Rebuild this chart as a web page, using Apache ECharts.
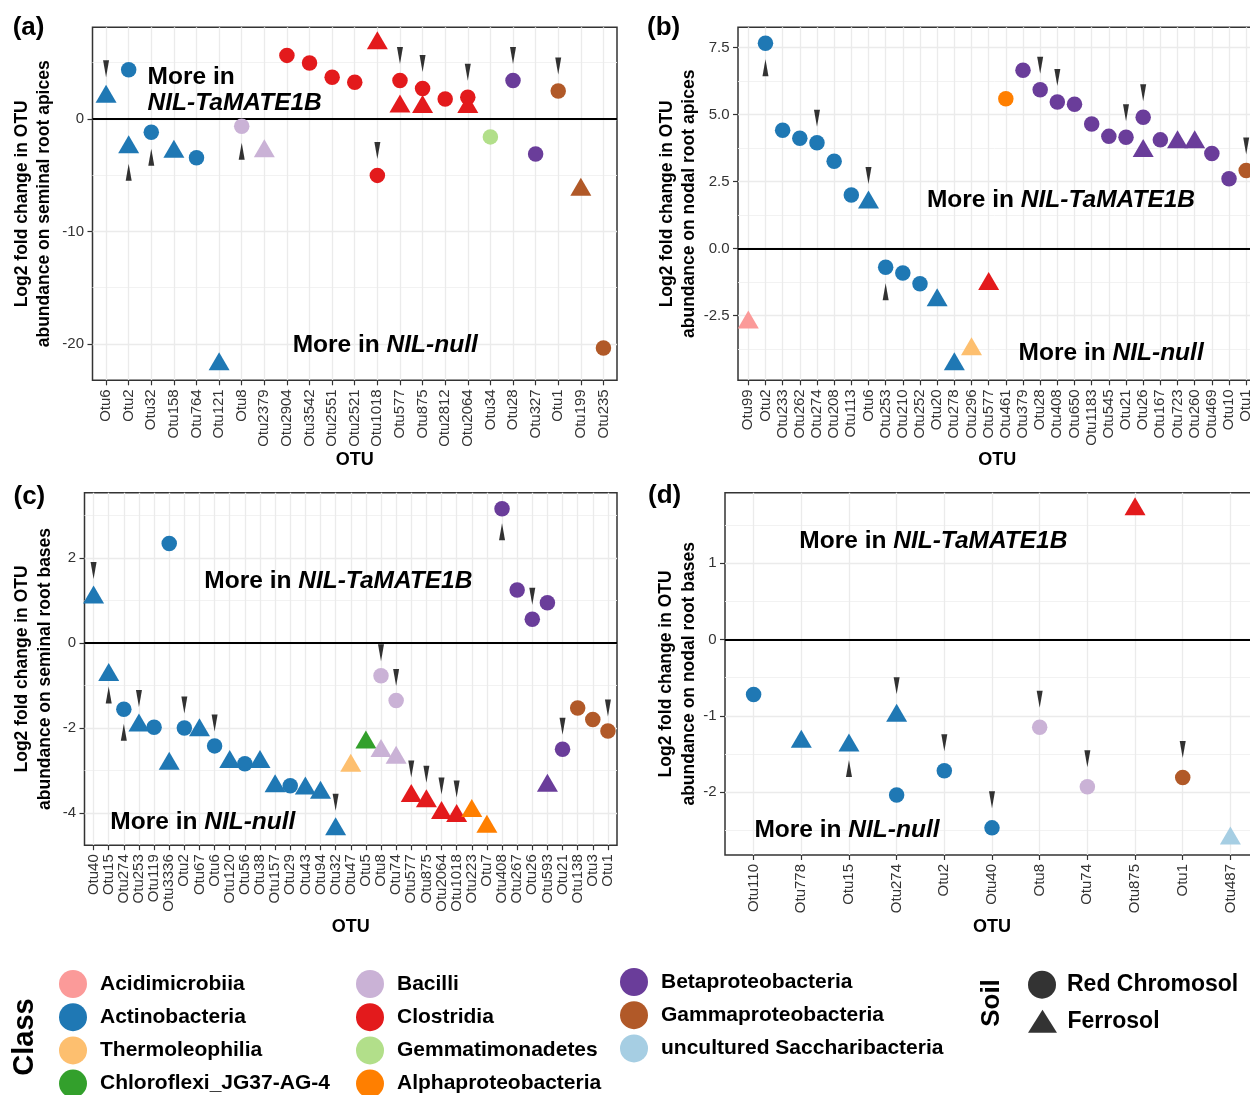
<!DOCTYPE html>
<html>
<head>
<meta charset="utf-8">
<script src="https://cdn.jsdelivr.net/npm/echarts@6/dist/echarts.min.js"></script>
<style>
  html, body { margin: 0; padding: 0; background: #ffffff; }
  #main { width: 1250px; height: 1095px; }
</style>
</head>
<body>
<div id="main"></div>
<script>
// ---- Classes (ColorBrewer "Paired" palette) ----
const classKeys   = ['Acid', 'Actino', 'Thermo', 'Chloro', 'Bac', 'Clos', 'Gem', 'Alpha', 'Beta', 'Gamma', 'Sacch'];
const classNames  = ['Acidimicrobiia', 'Actinobacteria', 'Thermoleophilia', 'Chloroflexi_JG37-AG-4',
                     'Bacilli', 'Clostridia', 'Gemmatimonadetes', 'Alphaproteobacteria',
                     'Betaproteobacteria', 'Gammaproteobacteria', 'uncultured Saccharibacteria'];
const classColors = ['#FB9A99', '#1F78B4', '#FDBF6F', '#33A02C', '#CAB2D6', '#E31A1C',
                     '#B2DF8A', '#FF7F00', '#6A3D9A', '#B15928', '#A6CEE3'];
const soilNames   = ['Red Chromosol', 'Ferrosol'];   // R = circle, F = triangle

// ---- (a) seminal root apices ----
const aOtus  = ['Otu6','Otu2','Otu32','Otu158','Otu764','Otu121','Otu8','Otu2379','Otu2904','Otu3542','Otu2551',
                'Otu2521','Otu1018','Otu577','Otu875','Otu2812','Otu2064','Otu34','Otu28','Otu327','Otu1','Otu199','Otu235'];
const aPtOtu = ['Otu6','Otu2','Otu2','Otu32','Otu158','Otu764','Otu121','Otu8','Otu2379','Otu2904','Otu3542','Otu2551','Otu2521','Otu1018',
                'Otu1018','Otu577','Otu577','Otu875','Otu875','Otu2812','Otu2064','Otu2064','Otu34','Otu28','Otu327','Otu1','Otu199','Otu235'];
const aClass = ['Actino','Actino','Actino','Actino','Actino','Actino','Actino','Bac','Bac','Clos','Clos','Clos','Clos','Clos',
                'Clos','Clos','Clos','Clos','Clos','Clos','Clos','Clos','Gem','Beta','Beta','Gamma','Gamma','Gamma'];
const aSoil  = ['F','R','F','R','F','R','F','R','F','R','R','R','R','F',
                'R','R','F','R','F','R','R','F','R','R','R','R','F','R'];
const aLfc   = [1.96, 4.37, -2.51, -1.18, -2.93, -3.46, -21.8, -0.65, -2.87, 5.64, 4.96, 3.69, 3.25, 6.71,
                -5.02, 3.40, 1.09, 2.69, 1.06, 1.77, 1.92, 1.06, -1.60, 3.40, -3.13, 2.48, -6.3, -20.35];
const aMark  = ['down','','up','up','','','','up','','','','','','',
                'down','down','','down','','','down','','','down','','down','',''];
const aTicks = [-20, -10, 0];
const aMinor = [-15, -5, 5];

// ---- (b) nodal root apices ----
const bOtus  = ['Otu99','Otu2','Otu233','Otu262','Otu274','Otu208','Otu113','Otu6','Otu253','Otu210','Otu252','Otu20',
                'Otu278','Otu296','Otu577','Otu461','Otu379','Otu28','Otu408','Otu650','Otu1183','Otu545','Otu21','Otu26',
                'Otu167','Otu723','Otu260','Otu469','Otu10','Otu1'];
const bPtOtu = ['Otu99','Otu2','Otu233','Otu262','Otu274','Otu208','Otu113','Otu6','Otu253','Otu210','Otu252','Otu20','Otu278','Otu296','Otu577',
                'Otu461','Otu379','Otu28','Otu408','Otu650','Otu1183','Otu545','Otu21','Otu26','Otu26','Otu167','Otu723','Otu260','Otu469','Otu10','Otu1'];
const bClass = ['Acid','Actino','Actino','Actino','Actino','Actino','Actino','Actino','Actino','Actino','Actino','Actino','Actino','Thermo','Clos',
                'Alpha','Beta','Beta','Beta','Beta','Beta','Beta','Beta','Beta','Beta','Beta','Beta','Beta','Beta','Beta','Gamma'];
const bSoil  = ['F','R','R','R','R','R','R','F','R','R','R','F','F','F','F',
                'R','R','R','R','R','R','R','R','R','F','R','F','F','R','R','R'];
const bLfc   = [-2.76, 7.65, 4.41, 4.11, 3.94, 3.25, 1.99, 1.71, -0.70, -0.92, -1.32, -1.93, -4.32, -3.76, -1.33,
                5.58, 6.65, 5.92, 5.46, 5.38, 4.64, 4.18, 4.15, 4.89, 3.63, 4.05, 3.96, 3.96, 3.54, 2.60, 2.91];
const bMark  = ['','up','','','down','','','down','up','','','','','','',
                '','','down','down','','','','down','down','','','','','','','down'];
const bTicks = [-2.5, 0, 2.5, 5, 7.5];
const bMinor = [-3.75, -1.25, 1.25, 3.75, 6.25];

// ---- (c) seminal root bases ----
const cOtus  = ['Otu40','Otu15','Otu274','Otu253','Otu119','Otu3336','Otu2','Otu67','Otu6','Otu120','Otu56','Otu38',
                'Otu157','Otu29','Otu43','Otu94','Otu32','Otu47','Otu5','Otu8','Otu74','Otu577','Otu875','Otu2064',
                'Otu1018','Otu223','Otu7','Otu408','Otu267','Otu26','Otu593','Otu21','Otu138','Otu3','Otu1'];
const cPtOtu = ['Otu40','Otu15','Otu274','Otu253','Otu119','Otu3336','Otu3336','Otu2','Otu67','Otu6','Otu120','Otu56','Otu38',
                'Otu157','Otu29','Otu43','Otu94','Otu32','Otu47','Otu5','Otu8','Otu8','Otu74','Otu74','Otu577','Otu875',
                'Otu2064','Otu1018','Otu223','Otu7','Otu408','Otu267','Otu26','Otu593','Otu593','Otu21','Otu138','Otu3','Otu1'];
const cClass = ['Actino','Actino','Actino','Actino','Actino','Actino','Actino','Actino','Actino','Actino','Actino','Actino','Actino',
                'Actino','Actino','Actino','Actino','Actino','Thermo','Chloro','Bac','Bac','Bac','Bac','Clos','Clos',
                'Clos','Clos','Alpha','Alpha','Beta','Beta','Beta','Beta','Beta','Beta','Gamma','Gamma','Gamma'];
const cSoil  = ['F','F','R','F','R','R','F','R','F','R','F','R','F',
                'F','R','F','F','F','F','F','R','F','R','F','F','F',
                'F','F','F','F','R','R','R','R','F','R','R','R','R'];
const cLfc   = [1.07, -0.75, -1.56, -1.94, -1.98, 2.34, -2.84, -2.00, -2.05, -2.42, -2.80, -2.84, -2.80,
                -3.37, -3.36, -3.42, -3.52, -4.38, -2.89, -2.34, -0.77, -2.54, -1.35, -2.70, -3.60, -3.72,
                -4.00, -4.07, -3.95, -4.32, 3.16, 1.25, 0.56, 0.95, -3.36, -2.50, -1.53, -1.80, -2.07];
const cMark  = ['down','up','up','down','','','','down','','down','','','',
                '','','','','down','','','down','','down','','down','down',
                'down','down','','','up','','down','','','down','','','down'];
const cTicks = [-4, -2, 0, 2];
const cMinor = [-3, -1, 1, 3];

// ---- (d) nodal root bases ----
const dOtus  = ['Otu110','Otu778','Otu15','Otu274','Otu2','Otu40','Otu8','Otu74','Otu875','Otu1','Otu487'];
const dPtOtu = ['Otu110','Otu778','Otu15','Otu274','Otu274','Otu2','Otu40','Otu8','Otu74','Otu875','Otu1','Otu487'];
const dClass = ['Actino','Actino','Actino','Actino','Actino','Actino','Actino','Bac','Bac','Clos','Gamma','Sacch'];
const dSoil  = ['R','F','F','F','R','R','R','R','R','F','R','F'];
const dLfc   = [-0.72, -1.34, -1.39, -1.00, -2.04, -1.72, -2.47, -1.15, -1.93, 1.71, -1.81, -2.61];
const dMark  = ['','','up','down','','down','down','down','down','','down',''];
const dTicks = [-2, -1, 0, 1];
const dMinor = [-2.5, -1.5, -0.5, 0.5, 1.5];

// ---- drawing ----
const FONT = '"Liberation Sans", Arial, Helvetica, sans-serif';
const CIRCLE = 15.5, TRI_W = 21, TRI_H = 18;
const ARROW_DOWN = 'path://M0,0 L6,0 L3,17 Z';
const ARROW_UP = 'path://M3,0 L6,17 L0,17 Z';

const panels = [
  { cats: aOtus, otu: aPtOtu, cls: aClass, soil: aSoil, lfc: aLfc, mark: aMark, ticks: aTicks, minor: aMinor, digits: 0,
    grid: { left: 92.5, top: 27.3, width: 524.5, height: 353 },
    yName: 'Log2 fold change in OTU\nabundance on seminal root apices', yGap: 36.6, xGap: 71,
    gap: { circle: 25, triAbove: 28, triBelow: 25 } },
  { cats: bOtus, otu: bPtOtu, cls: bClass, soil: bSoil, lfc: bLfc, mark: bMark, ticks: bTicks, minor: bMinor, digits: 1,
    grid: { left: 738, top: 27.3, width: 518.5, height: 353 },
    yName: 'Log2 fold change in OTU\nabundance on nodal root apices', yGap: 37.5, xGap: 71,
    gap: { circle: 24.5, triAbove: 27, triBelow: 24 } },
  { cats: cOtus, otu: cPtOtu, cls: cClass, soil: cSoil, lfc: cLfc, mark: cMark, ticks: cTicks, minor: cMinor, digits: 0,
    grid: { left: 84.5, top: 492.7, width: 532.5, height: 352.5 },
    yName: 'Log2 fold change in OTU\nabundance on seminal root bases', yGap: 28.5, xGap: 73,
    gap: { circle: 23, triAbove: 27, triBelow: 20 } },
  { cats: dOtus, otu: dPtOtu, cls: dClass, soil: dSoil, lfc: dLfc, mark: dMark, ticks: dTicks, minor: dMinor, digits: 0,
    grid: { left: 725, top: 492.7, width: 534, height: 362.3 },
    yName: 'Log2 fold change in OTU\nabundance on nodal root bases', yGap: 25, xGap: 63,
    gap: { circle: 28, triAbove: 30, triBelow: 23 } }
];

const grids = [], xAxes = [], yAxes = [], series = [];

panels.forEach((p, i) => {
  const lo = Math.min(...p.lfc), hi = Math.max(...p.lfc);
  const pad = (hi - lo) * 0.05;
  const yMin = lo - pad, yMax = hi + pad;
  const idx = p.cats.map((_, k) => k);

  grids.push(Object.assign({ show: true, borderColor: '#333333', borderWidth: 1.5,
    backgroundColor: '#ffffff', containLabel: false, outerBoundsMode: 'none' }, p.grid));

  xAxes.push({
    type: 'value', gridIndex: i, min: -0.6, max: p.cats.length - 0.4,
    name: 'OTU', nameLocation: 'middle', nameGap: p.xGap, nameMoveOverlap: false,
    nameTextStyle: { fontFamily: FONT, fontWeight: 'bold', fontSize: 18, color: '#000' },
    axisLine: { show: false, onZero: false },
    axisTick: { show: true, length: 5, customValues: idx, lineStyle: { color: '#333', width: 1.2 } },
    axisLabel: { show: true, rotate: 90, margin: 9, customValues: idx, fontFamily: FONT, fontSize: 15,
      color: '#333', formatter: v => p.cats[Math.round(v)] },
    splitLine: { show: true, lineStyle: { color: '#EBEBEB', width: 1.3 } }
  });

  yAxes.push({
    type: 'value', gridIndex: i, min: yMin, max: yMax, position: 'left', offset: 0,
    name: p.yName, nameLocation: 'middle', nameRotate: 90, nameGap: p.yGap, nameMoveOverlap: false,
    nameTextStyle: { fontFamily: FONT, fontWeight: 'bold', fontSize: 17.5, lineHeight: 22.5, color: '#000', align: 'center' },
    axisLine: { show: false, onZero: false },
    axisTick: { show: true, length: 5, customValues: p.ticks, lineStyle: { color: '#333', width: 1.2 } },
    axisLabel: { show: true, margin: 8.5, customValues: p.ticks, fontFamily: FONT, fontSize: 15, color: '#333',
      formatter: v => Number(v).toFixed(p.digits) },
    splitLine: { show: true, lineStyle: { color: '#EBEBEB', width: 1.3 } }
  });
  yAxes.push({
    type: 'value', gridIndex: i, min: yMin, max: yMax, position: 'left', offset: 0,
    axisLine: { show: false, onZero: false },
    axisTick: { show: false, customValues: p.minor },
    axisLabel: { show: false, customValues: p.minor },
    splitLine: { show: true, lineStyle: { color: '#F1F1F1', width: 0.9 } }
  });

  // points, one series per class and soil
  classKeys.forEach((key, ci) => {
    ['R', 'F'].forEach(soil => {
      const data = [];
      p.otu.forEach((o, k) => {
        if (p.cls[k] === key && p.soil[k] === soil) data.push([p.cats.indexOf(o), p.lfc[k]]);
      });
      if (!data.length) return;
      const tri = soil === 'F';
      series.push({
        type: 'scatter', name: classNames[ci], xAxisIndex: i, yAxisIndex: 2 * i, data,
        symbol: tri ? 'triangle' : 'circle',
        symbolSize: tri ? [TRI_W, TRI_H] : CIRCLE,
        symbolOffset: tri ? [0, -TRI_H / 6] : [0, 0],
        itemStyle: { color: classColors[ci], opacity: 1 },
        z: 3, silent: true, animation: false
      });
    });
  });

  // black pointer marks and the zero reference line
  const marks = [];
  p.otu.forEach((o, k) => {
    const m = p.mark[k];
    if (!m) return;
    const tri = p.soil[k] === 'F';
    const g = m === 'down' ? (tri ? p.gap.triAbove : p.gap.circle) : (tri ? p.gap.triBelow : p.gap.circle);
    marks.push({ value: [p.cats.indexOf(o), p.lfc[k]], symbol: m === 'down' ? ARROW_DOWN : ARROW_UP,
      symbolOffset: [0, m === 'down' ? -g : g] });
  });
  series.push({
    type: 'scatter', name: 'pointer-' + i, xAxisIndex: i, yAxisIndex: 2 * i, data: marks,
    symbolSize: [6, 17], itemStyle: { color: '#000' }, z: 3, silent: true, animation: false,
    markLine: { silent: true, symbol: ['none', 'none'], label: { show: false }, animation: false, z: 2,
      lineStyle: { color: '#000', width: 1.8, type: 'solid' }, data: [{ yAxis: 0 }] }
  });
});

// empty series that carry the soil legend entries
soilNames.forEach(n => series.push({ type: 'scatter', name: n, xAxisIndex: 0, yAxisIndex: 0, data: [],
  itemStyle: { color: '#000' }, silent: true }));

const legendText = size => ({ fontFamily: FONT, fontWeight: 'bold', fontSize: size, color: '#000' });
const classLegend = (names, left, top) => ({
  orient: 'vertical', left, top, height: 140, padding: 0, itemWidth: 44, itemHeight: 28, itemGap: 5.2,
  selectedMode: false, data: names.map(n => ({ name: n, icon: 'circle' })), textStyle: legendText(21)
});

// text helpers
const measureCtx = document.createElement('canvas').getContext('2d');
const textWidth = (t, font) => { measureCtx.font = font; return measureCtx.measureText(t).width; };
const ANNOT = 24.5;
const plain = (x, y, text, size, rot, align, italic) => ({
  type: 'text', x, y, rotation: rot || 0, silent: true, z: 10,
  style: { text, align: align || 'left', verticalAlign: 'middle', fill: '#000',
    font: (italic ? 'italic ' : '') + 'bold ' + size + 'px ' + FONT }
});
// "More in <genotype>" with the genotype in bold italic
const annot = (x, y, genotype, pre) => {
  const out = [];
  let cx = x;
  if (pre) {
    out.push(plain(cx, y, pre, ANNOT));
    cx += textWidth(pre, 'bold ' + ANNOT + 'px ' + FONT);
  }
  out.push(plain(cx, y, genotype, ANNOT, 0, 'left', true));
  return out;
};

const option = {
  animation: false,
  backgroundColor: '#ffffff',
  textStyle: { fontFamily: FONT },
  grid: grids, xAxis: xAxes, yAxis: yAxes, series,
  legend: [
    classLegend(classNames.slice(0, 4), 59, 970),
    classLegend(classNames.slice(4, 8), 356, 970),
    classLegend(classNames.slice(8, 11), 620, 968),
    { orient: 'vertical', left: 1028, top: 970.7, padding: 0, itemWidth: 40, itemHeight: 28, selectedMode: false,
      data: [{ name: 'Red Chromosol', icon: 'circle' }], textStyle: legendText(23) },
    { orient: 'vertical', left: 1028, top: 1009.8, padding: 0, itemWidth: 40, itemHeight: 23, selectedMode: false,
      symbolKeepAspect: true,
      data: [{ name: 'Ferrosol', icon: 'path://M0,23 L14.5,0 L29,23 Z' }], textStyle: legendText(23) }
  ],
  graphic: [].concat(
    plain(12.7, 27.7, '(a)', 26), plain(647, 27.7, '(b)', 26),
    plain(13.5, 496.7, '(c)', 26), plain(648, 496.2, '(d)', 26),
    plain(147.6, 77.3, 'More in', ANNOT),
    annot(147.6, 103.3, 'NIL-TaMATE1B', null),
    annot(292.7, 345.3, 'NIL-null', 'More in '),
    annot(926.9, 200, 'NIL-TaMATE1B', 'More in '),
    annot(1018.6, 353.3, 'NIL-null', 'More in '),
    annot(204.3, 581.7, 'NIL-TaMATE1B', 'More in '),
    annot(110.3, 822.3, 'NIL-null', 'More in '),
    annot(799.3, 541.7, 'NIL-TaMATE1B', 'More in '),
    annot(754.4, 830.3, 'NIL-null', 'More in '),
    plain(25, 1037, 'Class', 29, Math.PI / 2, 'center'),
    plain(991.7, 1003, 'Soil', 26, Math.PI / 2, 'center')
  )
};

const chart = echarts.init(document.getElementById('main'), null, { renderer: 'canvas' });
chart.setOption(option);
</script>
</body>
</html>
